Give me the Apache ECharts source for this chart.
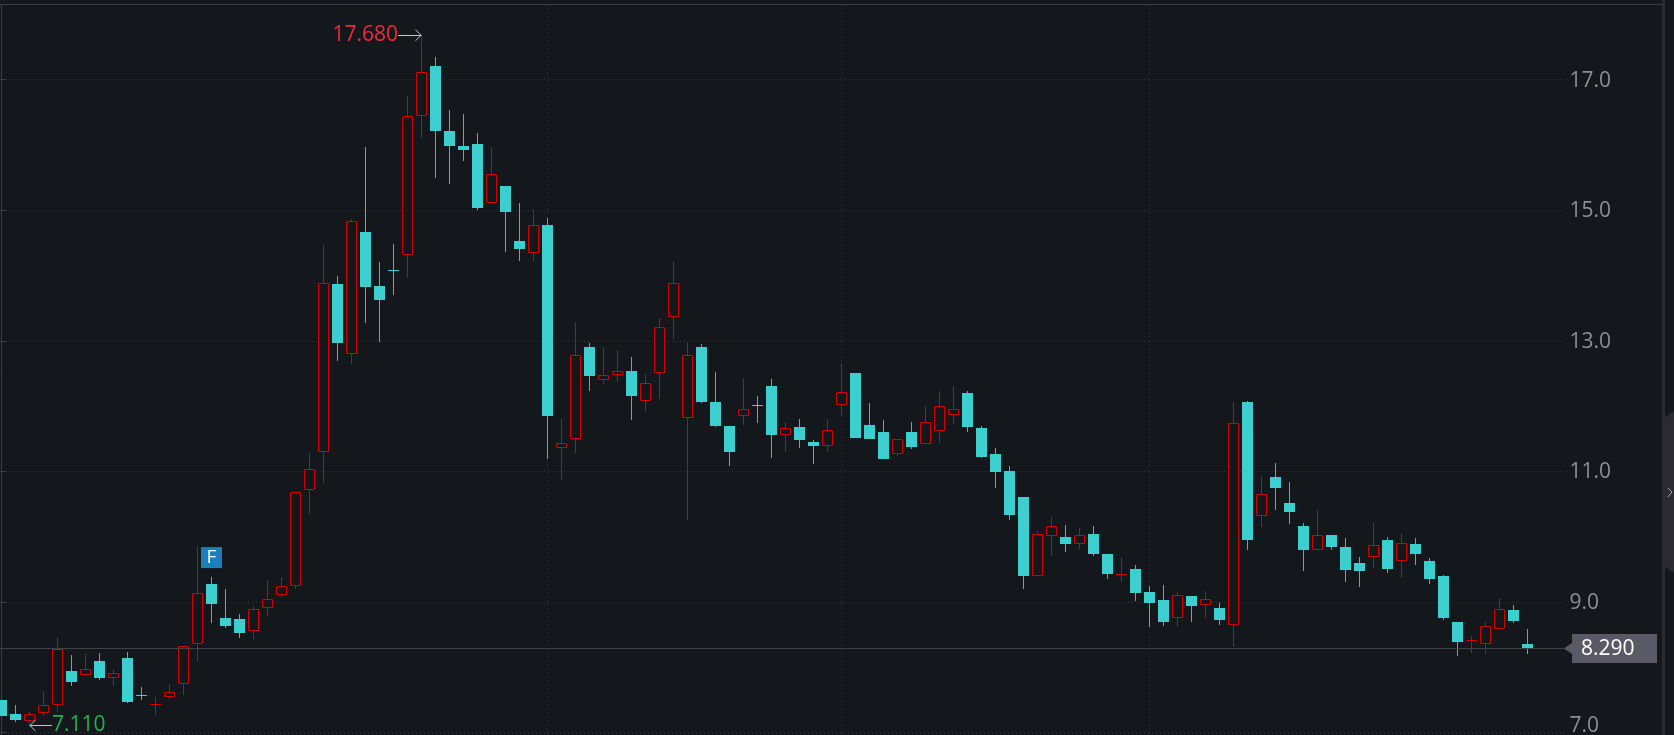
<!DOCTYPE html>
<html>
<head>
<meta charset="utf-8">
<title>K-line</title>
<style>
  html, body { margin: 0; padding: 0; background: #14171c; }
  #chart { width: 1674px; height: 735px; }
</style>
</head>
<body>
<div id="chart"></div>
<script src="https://cdn.jsdelivr.net/npm/echarts@6/dist/echarts.min.js"></script>
<script>
  const opens = [7.50,7.28,7.18,7.30,7.43,7.94,7.88,8.10,7.84,8.14,7.575,7.43,7.55,7.75,8.36,9.28,8.76,8.74,8.56,8.91,9.11,9.25,10.71,11.29,13.87,12.80,14.67,13.84,14.09,14.32,16.45,17.21,16.21,15.98,16.01,15.11,15.37,14.53,14.35,14.77,11.36,11.49,12.90,12.40,12.48,12.54,12.08,12.51,13.36,11.82,12.90,12.06,11.70,11.85,12.02,12.31,11.56,11.68,11.45,11.39,12.01,12.51,11.71,11.60,11.26,11.60,11.42,11.62,11.87,12.20,11.66,11.27,11.01,10.61,9.40,10.01,10.00,9.89,10.04,9.74,9.42,9.50,9.15,9.03,8.75,9.09,8.96,8.91,8.65,12.06,10.32,10.91,10.52,10.16,9.80,10.03,9.84,9.60,9.69,9.95,9.63,9.89,9.63,9.40,8.69,8.41,8.36,8.59,8.88,8.35]
  const closes = [7.25,7.19,7.28,7.42,8.28,7.77,7.97,7.84,7.91,7.47,7.565,7.445,7.62,8.32,9.13,8.97,8.63,8.53,8.89,9.04,9.24,10.68,11.03,13.89,12.97,14.83,13.82,13.62,14.07,16.44,17.11,16.21,15.98,15.92,15.03,15.55,14.97,14.41,14.77,11.85,11.44,12.79,12.46,12.47,12.53,12.16,12.36,13.21,13.89,12.79,12.06,11.70,11.30,11.95,12.01,11.56,11.67,11.48,11.39,11.64,12.21,11.51,11.50,11.19,11.49,11.37,11.75,12.00,11.95,11.68,11.22,10.99,10.33,9.40,10.04,10.17,9.89,10.02,9.74,9.43,9.43,9.14,8.99,8.70,9.10,8.94,9.04,8.72,11.74,9.95,10.66,10.75,10.38,9.80,10.02,9.84,9.49,9.47,9.87,9.51,9.90,9.74,9.35,8.76,8.39,8.42,8.63,8.89,8.71,8.29]
  const lows = [7.25,7.16,7.11,7.25,7.32,7.71,7.88,7.80,7.71,7.45,7.50,7.27,7.51,7.57,8.10,8.68,8.60,8.45,8.43,8.79,9.08,9.20,10.35,10.82,12.69,12.64,13.27,12.98,13.70,13.96,16.11,15.49,15.40,15.75,15.00,15.11,14.36,14.22,14.22,11.19,10.87,11.28,12.23,12.34,12.37,11.79,11.91,12.11,13.03,10.26,12.05,11.68,11.08,11.71,11.74,11.21,11.30,11.36,11.11,11.30,11.85,11.51,11.50,11.19,11.24,11.34,11.42,11.43,11.73,11.60,11.21,10.75,10.26,9.20,9.40,9.70,9.77,9.81,9.70,9.35,9.31,9.02,8.62,8.63,8.62,8.69,8.76,8.65,8.31,9.80,10.15,10.41,10.20,9.47,9.80,9.80,9.31,9.23,9.52,9.44,9.37,9.57,9.28,8.72,8.17,8.22,8.20,8.59,8.68,8.20]
  const highs = [7.50,7.42,7.32,7.64,8.46,8.19,8.20,8.22,7.97,8.23,7.70,7.54,7.74,8.32,9.86,9.38,9.20,8.82,8.94,9.34,9.38,10.68,11.28,14.47,13.99,14.86,15.97,14.21,14.48,16.75,17.68,17.35,16.53,16.47,16.18,15.97,15.37,15.11,15.00,14.88,11.80,13.29,12.97,12.90,12.86,12.75,12.49,13.35,14.22,12.98,12.95,12.52,11.70,12.43,12.15,12.42,11.76,11.80,11.48,11.80,12.66,12.51,12.05,11.79,11.49,11.76,12.00,12.23,12.31,12.23,11.70,11.36,11.08,10.61,10.09,10.30,10.18,10.13,10.16,9.74,9.69,9.57,9.24,9.26,9.15,9.09,9.17,8.99,12.06,12.08,10.93,11.13,10.84,10.21,10.41,10.03,9.98,9.69,10.21,10.00,10.06,9.98,9.67,9.41,8.69,8.48,8.69,9.06,8.95,8.59]

  const priceTicks = [7, 9, 11, 13, 15, 17]
  const monthTicks = [17, 39, 60, 82, 102]

  const lastPrice = 8.29
  const highPoint = { index: 30, value: 17.68, label: '17.680', labelAt: 28.33 }
  const lowPoint = { index: 2, value: 7.11, label: '7.110', labelAt: 3.6 }
  const flag = { index: 15, value: 9.68, label: 'F' }

  const FONT = '"Open Sans", "Noto Sans", sans-serif'
  const BG = '#14171c'
  const UP = '#d00000'
  const UP_WICK = '#a81212'
  const DOWN = '#3bcfcf'
  const DOWN_WICK = '#4cb4b8'
  const RULE = '#3c3e43'
  const GRID_DOT = '#35383d'
  const AXIS_TEXT = '#8c8f94'
  const CHEVRON = 'path://M6 -6L6.01 -6L6 -6Z M6 0L12 6L11 6L6 1L1 6L0 6Z'

  const candles = opens.map((o, i) => [i, o, closes[i], lows[i], highs[i]])

  const chart = echarts.init(document.getElementById('chart'), null, { renderer: 'canvas' })

  // native candlestick leaves the horizontal edges blurry, so bodies are snapped to pixels here
  function renderCandle(params, api) {
    const i = api.value(0)
    const open = api.value(1)
    const close = api.value(2)
    const up = close > open
    const cx = Math.floor(api.coord([i, open])[0])
    const top = Math.round(api.coord([i, Math.max(open, close)])[1])
    const bottom = Math.round(api.coord([i, Math.min(open, close)])[1])
    const high = Math.round(api.coord([i, api.value(4)])[1])
    const low = Math.round(api.coord([i, api.value(3)])[1])
    const wick = up ? UP_WICK : DOWN_WICK
    const children = []

    if (top > high) {
      children.push({
        type: 'rect',
        shape: { x: cx, y: high, width: 1, height: top - high },
        style: { fill: wick },
      })
    }
    if (low > bottom) {
      children.push({
        type: 'rect',
        shape: { x: cx, y: bottom, width: 1, height: low - bottom },
        style: { fill: wick },
      })
    }
    if (up && bottom - top >= 2) {
      children.push({
        type: 'rect',
        shape: { x: cx - 4.5, y: top + 0.5, width: 10, height: bottom - top - 1 },
        style: { fill: BG, stroke: UP, lineWidth: 1 },
      })
    } else {
      children.push({
        type: 'rect',
        shape: { x: cx - 5, y: top, width: 11, height: Math.max(bottom - top, 1) },
        style: { fill: up ? UP : DOWN },
      })
    }
    return { type: 'group', children }
  }

  function extremeLine(p, color) {
    return [
      {
        coord: [p.labelAt, p.value],
        symbol: 'none',
        label: {
          show: true,
          position: 'start',
          formatter: p.label,
          color: color,
          fontFamily: FONT,
          fontSize: 21,
          distance: 0,
        },
      },
      { coord: [p.index, p.value] },
    ]
  }

  chart.setOption({
    animation: false,
    backgroundColor: BG,
    grid: { left: 0, right: 109.5, top: 4.5, bottom: 0, outerBoundsMode: 'none' },
    xAxis: {
      type: 'value',
      min: -0.1071,
      max: 111.643,
      axisLine: { show: false },
      axisTick: { show: false, customValues: monthTicks },
      axisLabel: { show: false },
      splitLine: {
        show: true,
        showMinLine: false,
        showMaxLine: false,
        lineStyle: { color: GRID_DOT, type: [1, 3], width: 1 },
      },
    },
    yAxis: {
      type: 'value',
      position: 'right',
      min: 6.963,
      max: 18.15,
      axisLine: { show: true, lineStyle: { color: RULE } },
      axisTick: { show: true, length: 5, customValues: priceTicks, lineStyle: { color: RULE } },
      axisLabel: {
        show: true,
        customValues: priceTicks,
        // the lowest label sits above its tick, the canvas ends right under it
        formatter: (v) => (v === priceTicks[0] ? '{low|' + v.toFixed(1) + '}' : '{tick|' + v.toFixed(1) + '}'),
        margin: 5,
        rich: {
          tick: { color: AXIS_TEXT, fontFamily: FONT, fontSize: 21, padding: [2, 0, 0, 0] },
          low: { color: AXIS_TEXT, fontFamily: FONT, fontSize: 21, padding: [0, 0, 13, 0] },
        },
      },
      splitLine: {
        show: true,
        lineStyle: { color: GRID_DOT, type: [1, 3], width: 1 },
      },
    },
    series: [
      {
        type: 'custom',
        renderItem: renderCandle,
        clip: true,
        data: candles,
        encode: { x: 0, y: [1, 2, 3, 4] },
        markLine: {
          silent: true,
          animation: false,
          symbol: ['none', CHEVRON],
          symbolSize: 12,
          lineStyle: { color: '#c4c4c4', type: 'solid', width: 1 },
          data: [extremeLine(highPoint, '#ee2b36'), extremeLine(lowPoint, '#1fb24a')],
        },
        markPoint: {
          silent: true,
          animation: false,
          data: [
            {
              coord: [flag.index, flag.value],
              symbol: 'rect',
              symbolSize: 21,
              itemStyle: { color: '#1a80bb' },
              label: {
                show: true,
                formatter: flag.label,
                color: '#ffffff',
                fontFamily: FONT,
                fontSize: 19,
              },
            },
          ],
        },
      },
      {
        // last price line, kept apart so it does not take the candle style
        type: 'line',
        data: [],
        markLine: {
          silent: true,
          animation: false,
          symbol: 'none',
          label: { show: false },
          lineStyle: { color: '#404246', type: 'solid', width: 1 },
          data: [{ yAxis: lastPrice }],
        },
      },
    ],
  })

  // price tag and window chrome sit outside the grid
  const lastY = Math.round(chart.convertToPixel({ yAxisIndex: 0 }, lastPrice))

  chart.setOption({
    graphic: [
      {
        type: 'rect',
        shape: { x: 0, y: 4, width: 1662, height: 1 },
        style: { fill: RULE },
        silent: true,
      },
      {
        type: 'rect',
        shape: { x: 1662, y: 0, width: 3, height: 735 },
        style: { fill: '#2b2b30' },
        silent: true,
      },
      {
        type: 'polygon',
        shape: { points: [[1665, 417], [1674, 411], [1674, 573], [1665, 567]] },
        style: { fill: '#2a2a30' },
        silent: true,
      },
      {
        type: 'polyline',
        shape: { points: [[1668, 488], [1672, 492], [1668, 497]] },
        style: { stroke: '#a8a8ac', lineWidth: 1, fill: 'none' },
        silent: true,
      },
      {
        type: 'polygon',
        shape: { points: [[1564, lastY + 0.5], [1572, lastY - 5], [1572, lastY + 6]] },
        style: { fill: '#5a5a66' },
        silent: true,
      },
      {
        type: 'rect',
        shape: { x: 1572, y: lastY - 14, width: 85, height: 29 },
        style: { fill: '#5a5a66' },
        silent: true,
      },
      {
        type: 'text',
        style: {
          x: 1581,
          y: lastY + 1,
          text: lastPrice.toFixed(3),
          fill: '#ffffff',
          font: '21px ' + FONT,
          textVerticalAlign: 'middle',
        },
        silent: true,
      },
    ],
  })
</script>
</body>
</html>
